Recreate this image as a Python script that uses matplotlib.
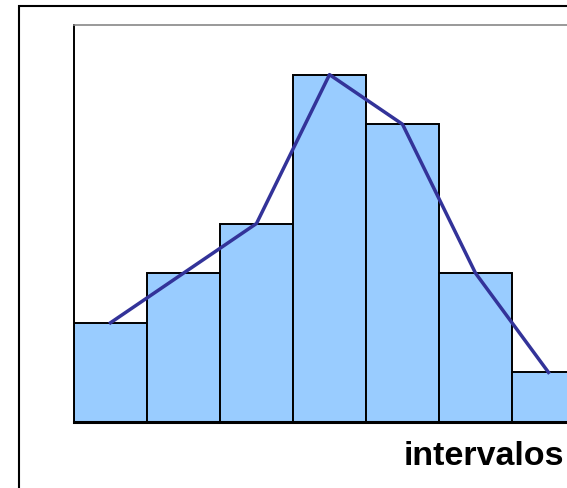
import matplotlib.pyplot as plt
from matplotlib.patches import Rectangle

# frecuencias por intervalo
frecuencias = [2, 3, 4, 7, 6, 3, 1]
intervalos = list(range(len(frecuencias)))

W, H = 567, 489
fig = plt.figure(figsize=(W / 100, H / 100), dpi=100)

# marco exterior del grafico
fig.patches.append(Rectangle((19 / W, -0.1), 1.0, (H - 7) / H + 0.1,
                             transform=fig.transFigure, fill=False,
                             edgecolor="black", linewidth=1.5))

ax = fig.add_axes([74 / W, (H - 423) / H, 511 / W, (423 - 26) / H])

ax.bar(intervalos, frecuencias, width=1.0, align="edge",
       color="#99CCFF", edgecolor="black", linewidth=1.4, zorder=2)

# poligono de frecuencias sobre los centros de clase
centros = [i + 0.5 for i in intervalos]
ax.plot(centros, frecuencias, color="#333399", linewidth=2.5, zorder=3)

ax.set_xlim(0, 7)
ax.set_ylim(0, 8)
ax.set_xticks([])
ax.set_yticks([])
ax.spines["top"].set_color("#888888")
ax.spines["top"].set_linewidth(1.2)
ax.spines["left"].set_linewidth(1.4)
ax.spines["bottom"].set_linewidth(2.2)

fig.text(484 / W, 1 - 457 / H, "intervalos", fontsize=24.5,
         fontweight="bold", family="Liberation Sans",
         ha="center", va="center")

fig.savefig("out.png", dpi=100)
